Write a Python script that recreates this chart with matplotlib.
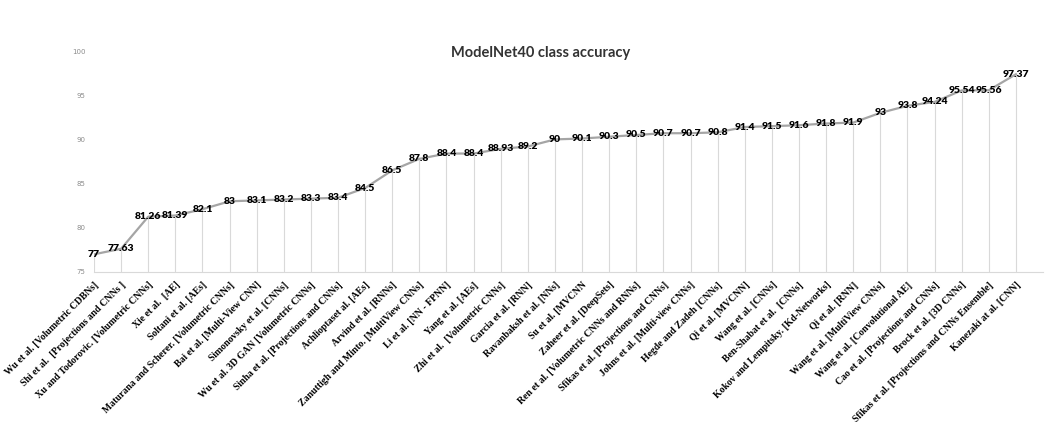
import matplotlib
matplotlib.use("Agg")
import matplotlib.pyplot as plt
import numpy as np

methods = [
    "Wu et al. [Volumetric CDBNs]",
    "Shi et al.  [Projections and CNNs ]",
    "Xu and Todorovic. [Volumetric CNNs]",
    "Xie et al.  [AE]",
    "Soltani et al. [AEs]",
    "Maturana and Scherer. [Volumetric CNNs]",
    "Bai et al. [Multi-View CNN]",
    "Simonovsky et al. [CNNs]",
    "Wu et al. 3D GAN [Volumetric CNNs]",
    "Sinha et al. [Projections and CNNs]",
    "Achlioptaset al. [AEs]",
    "Arvind et al. [RNNs]",
    "Zanuttigh and Minto. [MultiView CNNs]",
    "Li et al. [NN - FPNN]",
    "Yang et al. [AEs]",
    "Zhi et al.  [Volumetric CNNs]",
    "Garcia et al. [RNN]",
    "Ravanbaksh et al. [NNs]",
    "Su et al. [MVCNN",
    "Zaheer et al. [DeepSets]",
    "Ren et al. [Volumetric CNNs and RNNs]",
    "Sfikas et al. [Projections and CNNs]",
    "Johns et al. [Multi-view CNNs]",
    "Hegde and Zadeh [CNNs]",
    "Qi et al. [MVCNN]",
    "Wang et al. [CNNs]",
    "Ben-Shabat et al.  [CNNs]",
    "Kokov and Lempitsky. [Kd-Networks]",
    "Qi et al. [RNN]",
    "Wang et al. [MultiView CNNs]",
    "Wang et al. [Convolutional AE]",
    "Cao et al. [Projections and CNNs]",
    "Brock et al. [3D CNNs]",
    "Sfikas et al. [Projections and CNNs Ensemble]",
    "Kanezaki at al. [CNN]",
]
accuracy = [77, 77.63, 81.26, 81.39, 82.1, 83, 83.1, 83.2, 83.3, 83.4,
            84.5, 86.5, 87.8, 88.4, 88.4, 88.93, 89.2, 90, 90.1, 90.3,
            90.5, 90.7, 90.7, 90.8, 91.4, 91.5, 91.6, 91.8, 91.9, 93,
            93.8, 94.24, 95.54, 95.56, 97.37]
y_ticks = [75, 80, 85, 90, 95, 100]

fig = plt.figure(figsize=(10.55, 4.22), dpi=100)
ax = fig.add_axes([94 / 1055, 1 - 272 / 422, (1043 - 94) / 1055, (272 - 51) / 422])

x = np.arange(len(accuracy))
ax.vlines(x, y_ticks[0], accuracy, color="#d9d9d9", lw=0.8, zorder=1)
ax.plot(x, accuracy, color="#a5a5a5", lw=1.6, zorder=2)

for xi, v in zip(x, accuracy):
    ax.text(xi, v, f"{v:g}", ha="center", va="center", fontsize=7.5,
            fontweight="heavy", family="Lato", color="black", zorder=3)

ax.set_xlim(0, len(accuracy))
ax.set_ylim(y_ticks[0], y_ticks[-1])
ax.set_yticks(y_ticks)
ax.set_yticklabels([str(t) for t in y_ticks], fontsize=5, color="#8c8c8c")
ax.tick_params(axis="y", length=0, pad=6)

ax.set_xticks(x)
ax.set_xticklabels(methods, rotation=45, ha="right", rotation_mode="anchor",
                   fontsize=7, fontweight="bold", family="Liberation Serif")
ax.tick_params(axis="x", length=0, pad=6)

for side in ("top", "left", "right"):
    ax.spines[side].set_visible(False)
ax.spines["bottom"].set_color("#d9d9d9")
ax.spines["bottom"].set_linewidth(0.8)

fig.text(541 / 1055, 1 - 53 / 422, "ModelNet40 class accuracy", ha="center",
         va="center", fontsize=10.5, fontweight="bold", family="Lato",
         color="#333333")

fig.savefig("out.png", dpi=100)
